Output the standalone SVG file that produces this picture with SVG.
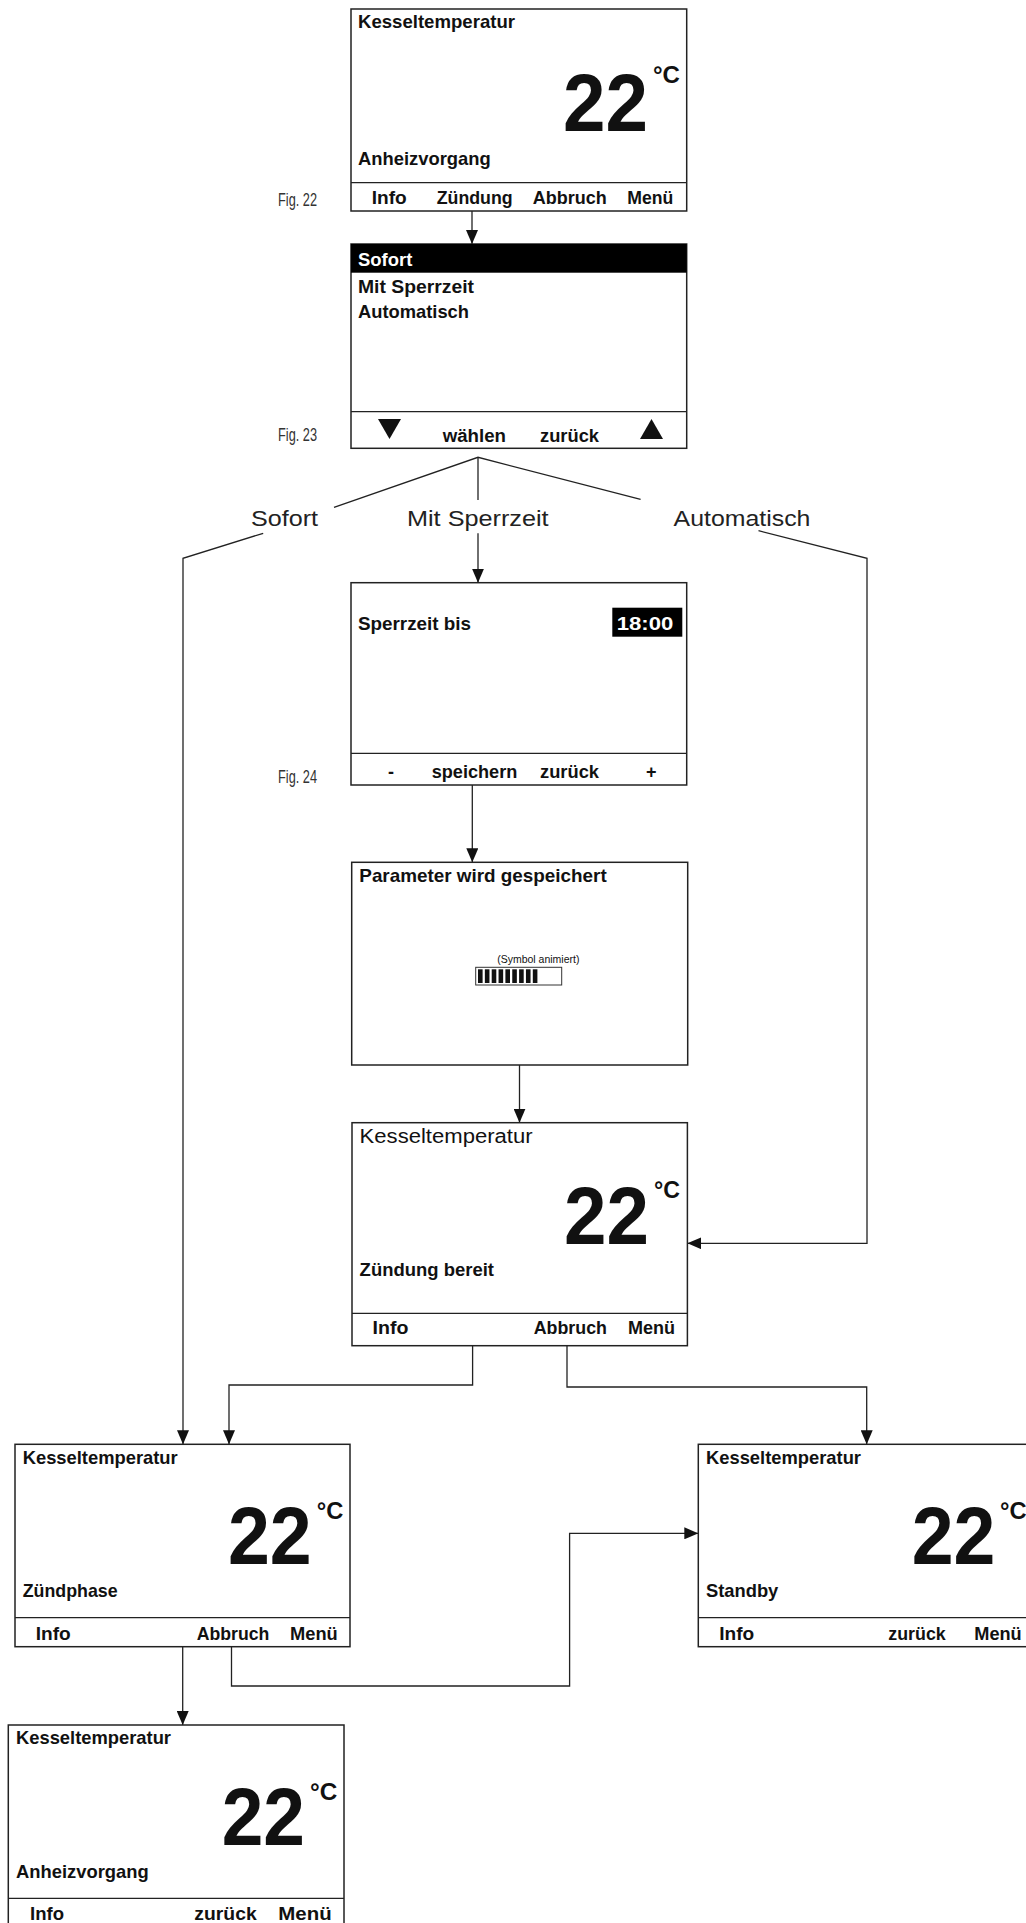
<svg xmlns="http://www.w3.org/2000/svg" width="1026" height="1923" viewBox="0 0 1026 1923">
<style>
text{font-family:"Liberation Sans",Arial,sans-serif;fill:#111}
.t{font-size:19px;font-weight:bold}
.tr{font-size:20px;font-weight:normal}
.k{font-size:18px;font-weight:bold}
.big{font-size:82px;font-weight:bold}
.deg{font-size:24px;font-weight:bold}
.fig{font-size:18px;fill:#333}
.lab{font-size:22px;fill:#222}
.w{fill:#fff}
.box{fill:#fff;stroke:#222;stroke-width:1.5}
.div{stroke:#222;stroke-width:1.3}
.ln{fill:none;stroke:#222;stroke-width:1.3}
.arr{fill:none;stroke:#222;stroke-width:1.3;marker-end:url(#ah)}
</style>
<defs>
<marker id="ah" markerUnits="userSpaceOnUse" markerWidth="14" markerHeight="12" refX="14" refY="6" orient="auto">
<path d="M0,0 L14,6 L0,12 z" fill="#111"/>
</marker>
</defs>
<rect width="1026" height="1923" fill="#fff"/>

<g id="connectors">
<path class="arr" d="M472,211 L472,244"/>
<path class="ln" d="M334,507.3 L478,457.3 L640.6,499.3"/>
<path class="ln" d="M478,457.3 L478,500"/>
<path class="arr" d="M263.2,533.3 L183,558.3 L183,1444.3"/>
<path class="arr" d="M478,533.3 L478,582.7"/>
<path class="arr" d="M758.5,530.7 L867,558.3 L867,1243.3 L687.4,1243.3"/>
<path class="arr" d="M472.3,785 L472.3,862.3"/>
<path class="arr" d="M519.5,1065 L519.5,1122.7"/>
<path class="arr" d="M472.6,1345.7 L472.6,1385 L229,1385 L229,1444.3"/>
<path class="arr" d="M567,1345.7 L567,1387 L866.7,1387 L866.7,1444.3"/>
<path class="arr" d="M182.7,1646.7 L182.7,1725"/>
<path class="arr" d="M231.5,1646.7 L231.5,1686 L569.6,1686 L569.6,1533.3 L698.3,1533.3"/>
<text class="lab" x="251" y="526" textLength="67" lengthAdjust="spacingAndGlyphs">Sofort</text>
<text class="lab" x="407" y="526" textLength="141.6" lengthAdjust="spacingAndGlyphs">Mit Sperrzeit</text>
<text class="lab" x="673.6" y="526" textLength="136.8" lengthAdjust="spacingAndGlyphs">Automatisch</text>
</g>

<g id="fig22">
<rect class="box" x="351" y="9" width="335.7" height="202"/>
<line class="div" x1="351" y1="182.7" x2="686.7" y2="182.7"/>
<text class="t" x="358" y="28.3" textLength="157" lengthAdjust="spacingAndGlyphs">Kesseltemperatur</text>
<text class="big" x="563" y="131" textLength="85" lengthAdjust="spacingAndGlyphs">22</text>
<text class="deg" x="653" y="83" textLength="27" lengthAdjust="spacingAndGlyphs">°C</text>
<text class="t" x="358" y="165" textLength="132.7" lengthAdjust="spacingAndGlyphs">Anheizvorgang</text>
<text class="k" x="371.7" y="204.3" textLength="35" lengthAdjust="spacingAndGlyphs">Info</text>
<text class="k" x="436.7" y="204.3" textLength="76" lengthAdjust="spacingAndGlyphs">Zündung</text>
<text class="k" x="532.7" y="204.3" textLength="74" lengthAdjust="spacingAndGlyphs">Abbruch</text>
<text class="k" x="627.3" y="204.3" textLength="46" lengthAdjust="spacingAndGlyphs">Menü</text>
<text class="fig" x="278" y="206" textLength="39" lengthAdjust="spacingAndGlyphs">Fig. 22</text>
</g>

<g id="fig23">
<rect class="box" x="351" y="244" width="335.7" height="204.3"/>
<rect x="351" y="244" width="335.7" height="28.7" fill="#000"/>
<line class="div" x1="351" y1="411.7" x2="686.7" y2="411.7"/>
<text class="t w" x="358" y="265.7" textLength="54.3" lengthAdjust="spacingAndGlyphs">Sofort</text>
<text class="t" x="358" y="293.3" textLength="116" lengthAdjust="spacingAndGlyphs">Mit Sperrzeit</text>
<text class="t" x="358" y="318" textLength="111" lengthAdjust="spacingAndGlyphs">Automatisch</text>
<path d="M378,419 L401,419 L389.5,439 z" fill="#111"/>
<text class="k" x="442.7" y="441.7" textLength="63.3" lengthAdjust="spacingAndGlyphs">wählen</text>
<text class="k" x="540" y="441.7" textLength="59" lengthAdjust="spacingAndGlyphs">zurück</text>
<path d="M640,439 L663,439 L651.5,419 z" fill="#111"/>
<text class="fig" x="278" y="440.7" textLength="39" lengthAdjust="spacingAndGlyphs">Fig. 23</text>
</g>

<g id="fig24">
<rect class="box" x="351" y="582.7" width="335.7" height="202.3"/>
<line class="div" x1="351" y1="753.3" x2="686.7" y2="753.3"/>
<text class="t" x="358" y="630" textLength="113" lengthAdjust="spacingAndGlyphs">Sperrzeit bis</text>
<rect x="612.3" y="607.7" width="70" height="29" fill="#000"/>
<text class="t w" x="616.7" y="630" textLength="56.6" lengthAdjust="spacingAndGlyphs">18:00</text>
<text class="k" x="388" y="778.3">-</text>
<text class="k" x="431.7" y="778.3" textLength="85.6" lengthAdjust="spacingAndGlyphs">speichern</text>
<text class="k" x="540" y="778.3" textLength="59" lengthAdjust="spacingAndGlyphs">zurück</text>
<text class="k" x="646" y="778.3">+</text>
<text class="fig" x="278" y="783.3" textLength="39" lengthAdjust="spacingAndGlyphs">Fig. 24</text>
</g>

<g id="saving">
<rect class="box" x="351.7" y="862.3" width="336" height="202.7"/>
<text class="t" x="359.3" y="881.7" textLength="247.4" lengthAdjust="spacingAndGlyphs">Parameter wird gespeichert</text>
<text x="538.3" y="963.3" font-size="10.5" fill="#333" text-anchor="middle">(Symbol animiert)</text>
<rect x="475.7" y="967.3" width="86" height="17.7" fill="#fff" stroke="#333" stroke-width="1"/>
<g fill="#111">
<rect x="478" y="969.3" width="4.6" height="13.7"/>
<rect x="484.85" y="969.3" width="4.6" height="13.7"/>
<rect x="491.7" y="969.3" width="4.6" height="13.7"/>
<rect x="498.55" y="969.3" width="4.6" height="13.7"/>
<rect x="505.4" y="969.3" width="4.6" height="13.7"/>
<rect x="512.25" y="969.3" width="4.6" height="13.7"/>
<rect x="519.1" y="969.3" width="4.6" height="13.7"/>
<rect x="525.95" y="969.3" width="4.6" height="13.7"/>
<rect x="532.8" y="969.3" width="4.6" height="13.7"/>
</g>
</g>

<g id="ready">
<rect class="box" x="352" y="1122.7" width="335.4" height="223"/>
<line class="div" x1="352" y1="1313.3" x2="687.4" y2="1313.3"/>
<text class="tr" x="359.6" y="1142.7" textLength="173" lengthAdjust="spacingAndGlyphs">Kesseltemperatur</text>
<text class="big" x="564" y="1244" textLength="85" lengthAdjust="spacingAndGlyphs">22</text>
<text class="deg" x="654" y="1198.3" textLength="26" lengthAdjust="spacingAndGlyphs">°C</text>
<text class="t" x="359.6" y="1276" textLength="134.4" lengthAdjust="spacingAndGlyphs">Zündung bereit</text>
<text class="k" x="372.6" y="1334" textLength="35.9" lengthAdjust="spacingAndGlyphs">Info</text>
<text class="k" x="533.7" y="1334" textLength="73.3" lengthAdjust="spacingAndGlyphs">Abbruch</text>
<text class="k" x="628" y="1334" textLength="47" lengthAdjust="spacingAndGlyphs">Menü</text>
</g>

<g id="ignition">
<rect class="box" x="15" y="1444.3" width="335" height="202.4"/>
<line class="div" x1="15" y1="1617.7" x2="350" y2="1617.7"/>
<text class="t" x="22.7" y="1464.3" textLength="155" lengthAdjust="spacingAndGlyphs">Kesseltemperatur</text>
<text class="big" x="228" y="1564" textLength="83.7" lengthAdjust="spacingAndGlyphs">22</text>
<text class="deg" x="316.7" y="1519.3" textLength="26.6" lengthAdjust="spacingAndGlyphs">°C</text>
<text class="t" x="22.7" y="1597.3" textLength="95" lengthAdjust="spacingAndGlyphs">Zündphase</text>
<text class="k" x="35.7" y="1640" textLength="35" lengthAdjust="spacingAndGlyphs">Info</text>
<text class="k" x="196.7" y="1640" textLength="72.6" lengthAdjust="spacingAndGlyphs">Abbruch</text>
<text class="k" x="290" y="1640" textLength="47.7" lengthAdjust="spacingAndGlyphs">Menü</text>
</g>

<g id="standby">
<rect class="box" x="698.3" y="1444.3" width="335" height="202.4"/>
<line class="div" x1="698.3" y1="1617.7" x2="1033.3" y2="1617.7"/>
<text class="t" x="706" y="1464.3" textLength="155" lengthAdjust="spacingAndGlyphs">Kesseltemperatur</text>
<text class="big" x="911.7" y="1564" textLength="83.7" lengthAdjust="spacingAndGlyphs">22</text>
<text class="deg" x="1000" y="1519.3" textLength="26.6" lengthAdjust="spacingAndGlyphs">°C</text>
<text class="t" x="706" y="1597.3" textLength="72.3" lengthAdjust="spacingAndGlyphs">Standby</text>
<text class="k" x="719.3" y="1640" textLength="35" lengthAdjust="spacingAndGlyphs">Info</text>
<text class="k" x="888.3" y="1640" textLength="57.4" lengthAdjust="spacingAndGlyphs">zurück</text>
<text class="k" x="974.3" y="1640" textLength="47.4" lengthAdjust="spacingAndGlyphs">Menü</text>
</g>

<g id="heating">
<rect class="box" x="8.3" y="1725" width="335.7" height="203"/>
<line class="div" x1="8.3" y1="1898.3" x2="344" y2="1898.3"/>
<text class="t" x="16" y="1744.3" textLength="155" lengthAdjust="spacingAndGlyphs">Kesseltemperatur</text>
<text class="big" x="221.7" y="1845" textLength="83.3" lengthAdjust="spacingAndGlyphs">22</text>
<text class="deg" x="310" y="1800" textLength="27.3" lengthAdjust="spacingAndGlyphs">°C</text>
<text class="t" x="16" y="1878.3" textLength="132.7" lengthAdjust="spacingAndGlyphs">Anheizvorgang</text>
<text class="k" x="30" y="1919.5" textLength="34" lengthAdjust="spacingAndGlyphs">Info</text>
<text class="k" x="194.3" y="1919.5" textLength="62.4" lengthAdjust="spacingAndGlyphs">zurück</text>
<text class="k" x="278.3" y="1919.5" textLength="53.4" lengthAdjust="spacingAndGlyphs">Menü</text>
</g>
</svg>
